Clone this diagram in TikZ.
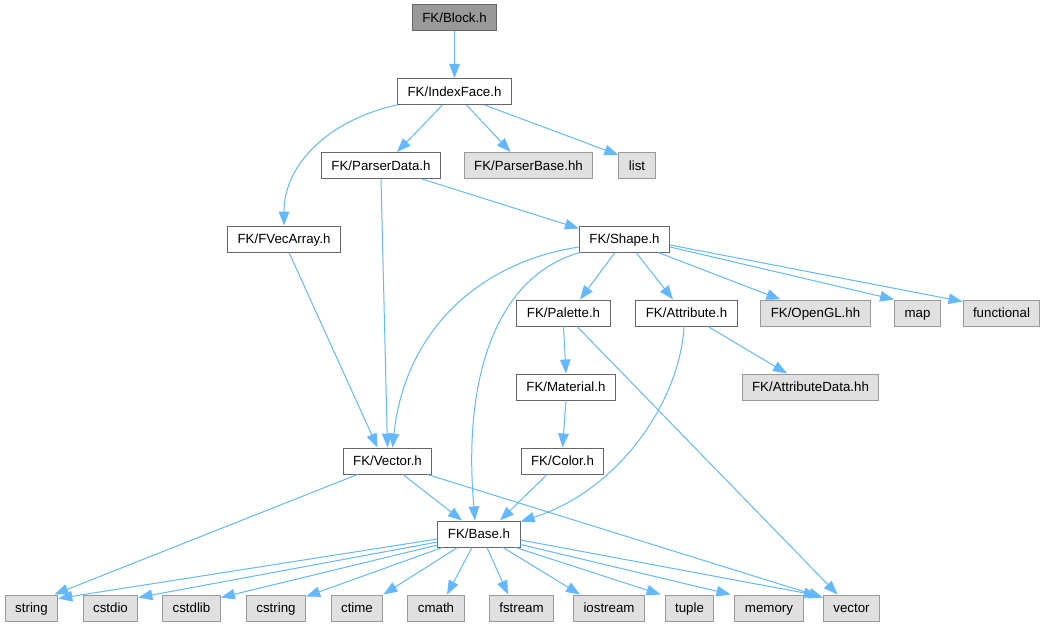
\documentclass[tikz,border=0pt]{standalone}
\usepackage{fontspec}
\setmainfont{Liberation Sans}
\usetikzlibrary{arrows.meta}
\definecolor{edgeblue}{HTML}{63B8FF}
\definecolor{boxline}{HTML}{666666}
\definecolor{sysline}{HTML}{999999}
\definecolor{sysfill}{HTML}{E0E0E0}
\tikzset{
  file/.style={draw=boxline, fill=white, line width=1pt, minimum height=26pt,
    inner xsep=10pt, text height=12pt, text depth=2.4pt,
    font=\fontsize{13.3}{16}\selectfont},
  root/.style={file, fill=sysline},
  sys/.style={file, draw=sysline, fill=sysfill},
  edge/.style={-{Triangle[length=14pt,width=10.5pt]}, draw=edgeblue, line width=1pt}
}

\begin{document}
\begin{tikzpicture}[x=1pt,y=-1pt]
\useasboundingbox[fill=white] (0,0) rectangle (1047,626);
% headers of the project
\node[root] (block) at (454.5,18) {FK/Block.h};
\node[file] (indexface) at (454.5,91.5) {FK/IndexFace.h};
\node[file] (parserdata) at (381,165.5) {FK/ParserData.h};
\node[sys] (parserbase) at (528.5,165.5) {FK/ParserBase.hh};
\node[sys] (list) at (637,165.5) {list};
\node[file] (fvecarray) at (284,239) {FK/FVecArray.h};
\node[file] (shape) at (624.5,239) {FK/Shape.h};
\node[file] (palette) at (563.5,313) {FK/Palette.h};
\node[file] (attribute) at (686.5,313) {FK/Attribute.h};
\node[sys] (opengl) at (815.5,313) {FK/OpenGL.hh};
\node[sys] (map) at (917.5,313) {map};
\node[sys] (functional) at (1001.5,313) {functional};
\node[file] (material) at (566,387) {FK/Material.h};
\node[sys] (attributedata) at (810.5,387) {FK/AttributeData.hh};
\node[file] (color) at (562.5,461) {FK/Color.h};
\node[file] (vector) at (387.5,461) {FK/Vector.h};
\node[file] (base) at (479,534) {FK/Base.h};
% system headers
\node[sys] (string) at (31.5,608) {string};
\node[sys] (cstdio) at (110.5,608) {cstdio};
\node[sys] (cstdlib) at (191.5,608) {cstdlib};
\node[sys] (cstring) at (276,608) {cstring};
\node[sys] (ctime) at (357,608) {ctime};
\node[sys] (cmath) at (436,608) {cmath};
\node[sys] (fstream) at (521.5,608) {fstream};
\node[sys] (iostream) at (609,608) {iostream};
\node[sys] (tuple) at (689.5,608) {tuple};
\node[sys] (memory) at (769,608) {memory};
\node[sys] (vectorstd) at (851.5,608) {vector};

% includes
\draw[edge] (block) -- (indexface);
\draw[edge] (indexface.south west) to[out=192,in=90] (fvecarray.north);
\draw[edge] ([xshift=-12pt]indexface.south) -- ([xshift=16pt]parserdata.north);
\draw[edge] ([xshift=12pt]indexface.south) -- ([xshift=-18pt]parserbase.north);
\draw[edge] ([xshift=30pt]indexface.south) -- ([yshift=-3pt]list.north west);
\draw[edge] (parserdata.south) -- (vector.north);
\draw[edge] ([xshift=41pt]parserdata.south) -- ([yshift=-3pt]shape.north west);
\draw[edge] ([xshift=5pt]fvecarray.south) -- ([xshift=-10pt]vector.north);
\draw[edge] ([yshift=-8pt]shape.west) .. controls (480,262) and (405,330) .. ([xshift=5pt]vector.north);
\draw[edge] ([xshift=1pt]shape.south west) .. controls (500,275) and (462,370) .. ([xshift=-4pt]base.north);
\draw[edge] ([xshift=-9.5pt]shape.south) -- ([xshift=16.5pt]palette.north);
\draw[edge] ([xshift=11.5pt]shape.south) -- ([xshift=-13.5pt]attribute.north);
\draw[edge] ([xshift=-12pt]shape.south east) -- ([xshift=-35pt]opengl.north);
\draw[edge] ([yshift=-8pt]shape.east) -- (map.north west);
\draw[edge] ([yshift=-6pt]shape.east) -- ([yshift=-2pt]functional.north west);
\draw[edge] (palette.south) -- (material.north);
\draw[edge] ([xshift=13.5pt]palette.south) -- ([xshift=-14pt]vectorstd.north);
\draw[edge] ([xshift=-2.5pt]attribute.south) .. controls (680,400) and (620,490) .. ([yshift=-1pt]base.north east);
\draw[edge] ([xshift=21.5pt]attribute.south) -- ([xshift=-23.5pt]attributedata.north);
\draw[edge] (material.south) -- (color.north);
\draw[edge] ([xshift=-15.5pt]color.south) -- ([xshift=21pt]base.north);
\draw[edge] ([xshift=-30pt]vector.south) -- ([xshift=-4pt]string.north east);
\draw[edge] ([xshift=15.5pt]vector.south) -- ([xshift=-17pt]base.north);
\draw[edge] ([xshift=-5pt]vector.south east) -- ([yshift=-3pt]vectorstd.north west);
% Base.h includes
\draw[edge] ([yshift=-5pt]base.west) -- ([yshift=-4pt]string.north east);
\draw[edge] ([yshift=-8pt]base.west) -- ([yshift=-3pt]cstdio.north east);
\draw[edge] ([yshift=-11pt]base.west) -- ([yshift=-3pt]cstdlib.north east);
\draw[edge] ([xshift=5pt]base.south west) -- ([yshift=-2pt]cstring.north east);
\draw[edge] ([xshift=20pt]base.south west) -- (ctime.north east);
\draw[edge] ([xshift=-7pt]base.south) -- ([xshift=11pt]cmath.north);
\draw[edge] ([xshift=8pt]base.south) -- ([xshift=-13.5pt]fstream.north);
\draw[edge] ([xshift=24pt]base.south) -- ([xshift=-29pt]iostream.north);
\draw[edge] ([xshift=-5pt]base.south east) -- ([xshift=-4pt]tuple.north west);
\draw[edge] ([yshift=3pt]base.south east) -- ([xshift=-4pt]memory.north west);
\draw[edge] ([yshift=-6pt]base.east) -- ([xshift=-5pt,yshift=-1pt]vectorstd.north west);
\end{tikzpicture}
\end{document}
